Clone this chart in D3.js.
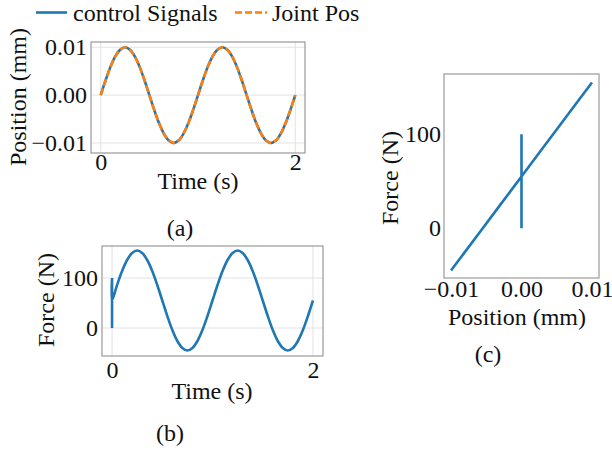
<!DOCTYPE html>
<html>
<head>
<meta charset="utf-8">
<script src="https://cdn.jsdelivr.net/npm/d3@7"></script>
<style>
  body { margin: 0; background: #fff; }
  svg { display: block; font-family: "Liberation Serif", "Times New Roman", serif; }
</style>
</head>
<body>
<svg width="612" height="453"></svg>
<script>
// sampled every 0.05 s
var time = [0, 0.05, 0.1, 0.15, 0.2, 0.25, 0.3, 0.35, 0.4, 0.45, 0.5, 0.55, 0.6, 0.65, 0.7, 0.75, 0.8, 0.85, 0.9, 0.95,
            1.0, 1.05, 1.1, 1.15, 1.2, 1.25, 1.3, 1.35, 1.4, 1.45, 1.5, 1.55, 1.6, 1.65, 1.7, 1.75, 1.8, 1.85, 1.9, 1.95, 2.0];

var controlSignals = [0, 0.0031, 0.0059, 0.0081, 0.0095, 0.0100, 0.0095, 0.0081, 0.0059, 0.0031,
                      0, -0.0031, -0.0059, -0.0081, -0.0095, -0.0100, -0.0095, -0.0081, -0.0059, -0.0031,
                      0, 0.0031, 0.0059, 0.0081, 0.0095, 0.0100, 0.0095, 0.0081, 0.0059, 0.0031,
                      0, -0.0031, -0.0059, -0.0081, -0.0095, -0.0100, -0.0095, -0.0081, -0.0059, -0.0031, 0];

var jointPos = [0, 0.0031, 0.0059, 0.0081, 0.0095, 0.0100, 0.0095, 0.0081, 0.0059, 0.0031,
                0, -0.0031, -0.0059, -0.0081, -0.0095, -0.0100, -0.0095, -0.0081, -0.0059, -0.0031,
                0, 0.0031, 0.0059, 0.0081, 0.0095, 0.0100, 0.0095, 0.0081, 0.0059, 0.0031,
                0, -0.0031, -0.0059, -0.0081, -0.0095, -0.0100, -0.0095, -0.0081, -0.0059, -0.0031, 0];

var force = [55, 86, 114, 136, 150, 155, 150, 136, 114, 86,
             55, 24, -4, -26, -40, -45, -40, -26, -4, 24,
             55, 86, 114, 136, 150, 155, 150, 136, 114, 86,
             55, 24, -4, -26, -40, -45, -40, -26, -4, 24, 55];

// start-up spike at t = 0
var spikeTime = [0, 0];
var spikePos = [0, 0];
var spikeForce = [0, 100];

var posTicks = [-0.01, 0, 0.01],
    timeTicks = [0, 2],
    forceTicks = [0, 100];

var blue = "#1f77b4", orange = "#ff7f0e",
    gridColor = "#e2e2e2", frameColor = "#999",
    fontSize = 24;

var svg = d3.select("svg");
var fmt2 = d3.format(".2f");

function panel(o) {
  var x = d3.scaleLinear().domain(o.xDomain).range([o.left, o.right]),
      y = d3.scaleLinear().domain(o.yDomain).range([o.bottom, o.top]),
      g = svg.append("g");

  if (o.grid) {
    g.selectAll(".gx").data(o.xTicks).enter().append("line")
      .attr("x1", function(d) { return x(d); }).attr("x2", function(d) { return x(d); })
      .attr("y1", o.top).attr("y2", o.bottom)
      .attr("stroke", gridColor).attr("stroke-width", 1);
    g.selectAll(".gy").data(o.yTicks).enter().append("line")
      .attr("y1", function(d) { return y(d); }).attr("y2", function(d) { return y(d); })
      .attr("x1", o.left).attr("x2", o.right)
      .attr("stroke", gridColor).attr("stroke-width", 1);
  }

  var xa = g.append("g")
    .attr("transform", "translate(0," + o.bottom + ")")
    .call(d3.axisBottom(x).tickValues(o.xTicks).tickFormat(o.xFormat).tickSize(0).tickPadding(o.xPad));
  var ya = g.append("g")
    .attr("transform", "translate(" + o.left + ",0)")
    .call(d3.axisLeft(y).tickValues(o.yTicks).tickFormat(o.yFormat).tickSize(0).tickPadding(o.yPad));
  [xa, ya].forEach(function(a) {
    a.select(".domain").remove();
    a.attr("font-family", null).attr("font-size", null);
    a.selectAll("text").attr("font-size", fontSize).attr("fill", "#111");
  });

  g.append("rect")
    .attr("x", o.left).attr("y", o.top)
    .attr("width", o.right - o.left).attr("height", o.bottom - o.top)
    .attr("fill", "none").attr("stroke", frameColor).attr("stroke-width", 1.2);

  g.append("text")
    .attr("x", o.xLabel[1]).attr("y", o.xLabel[2])
    .attr("text-anchor", "middle").attr("font-size", fontSize).attr("fill", "#111")
    .text(o.xLabel[0]);
  g.append("text")
    .attr("transform", "translate(" + o.yLabel[1] + "," + o.yLabel[2] + ") rotate(-90)")
    .attr("text-anchor", "middle").attr("font-size", fontSize).attr("fill", "#111")
    .text(o.yLabel[0]);
  g.append("text")
    .attr("x", o.caption[1]).attr("y", o.caption[2])
    .attr("text-anchor", "middle").attr("font-size", fontSize).attr("fill", "#111")
    .text(o.caption[0]);

  return { x: x, y: y, g: g };
}

// (a) position vs time
var a = panel({
  left: 91, right: 305, top: 42, bottom: 153,
  xDomain: [-0.1, 2.1], yDomain: [-0.0121, 0.0111],
  xTicks: timeTicks, yTicks: posTicks,
  xFormat: d3.format("d"), yFormat: fmt2, xPad: 0, yPad: 4, grid: true,
  xLabel: ["Time (s)", 198, 189], yLabel: ["Position (mm)", 26, 97], caption: ["(a)", 180, 236]
});
var lineA = d3.line().curve(d3.curveCatmullRom)
  .x(function(d) { return a.x(d[0]); }).y(function(d) { return a.y(d[1]); });
a.g.append("path").datum(d3.zip(time, controlSignals))
  .attr("d", lineA).attr("fill", "none").attr("stroke", blue).attr("stroke-width", 2.6);
a.g.append("path").datum(d3.zip(time, jointPos))
  .attr("d", lineA).attr("fill", "none").attr("stroke", orange).attr("stroke-width", 2.6)
  .attr("stroke-dasharray", "7,3");

// (b) force vs time
var b = panel({
  left: 102, right: 323, top: 246, bottom: 356,
  xDomain: [-0.1, 2.1], yDomain: [-56, 164],
  xTicks: timeTicks, yTicks: forceTicks,
  xFormat: d3.format("d"), yFormat: d3.format("d"), xPad: 5, yPad: 4, grid: true,
  xLabel: ["Time (s)", 212, 399], yLabel: ["Force (N)", 54, 300], caption: ["(b)", 170, 441]
});
var lineB = d3.line().curve(d3.curveCatmullRom)
  .x(function(d) { return b.x(d[0]); }).y(function(d) { return b.y(d[1]); });
b.g.append("path").datum(d3.zip(spikeTime.concat(time), spikeForce.concat(force)))
  .attr("d", lineB).attr("fill", "none").attr("stroke", blue).attr("stroke-width", 2.6);

// (c) force vs position
var c = panel({
  left: 444, right: 599, top: 74, bottom: 278,
  xDomain: [-0.011, 0.011], yDomain: [-53, 164],
  xTicks: posTicks, yTicks: forceTicks,
  xFormat: fmt2, yFormat: d3.format("d"), xPad: 2, yPad: 3, grid: false,
  xLabel: ["Position (mm)", 517, 325], yLabel: ["Force (N)", 398, 178], caption: ["(c)", 488, 362]
});
var lineC = d3.line()
  .x(function(d) { return c.x(d[0]); }).y(function(d) { return c.y(d[1]); });
c.g.append("path").datum(d3.zip(spikePos.concat(controlSignals), spikeForce.concat(force)))
  .attr("d", lineC).attr("fill", "none").attr("stroke", blue).attr("stroke-width", 2.6);

// legend
var legend = svg.append("g").attr("font-size", fontSize).attr("fill", "#111");
legend.append("line").attr("x1", 36).attr("x2", 67).attr("y1", 12.5).attr("y2", 12.5)
  .attr("stroke", blue).attr("stroke-width", 2.6);
legend.append("text").attr("x", 73).attr("y", 20.5).text("control Signals");
legend.append("line").attr("x1", 235).attr("x2", 267).attr("y1", 12.5).attr("y2", 12.5)
  .attr("stroke", orange).attr("stroke-width", 2.6).attr("stroke-dasharray", "7,3");
legend.append("text").attr("x", 272).attr("y", 20.5).text("Joint Pos");
</script>
</body>
</html>
